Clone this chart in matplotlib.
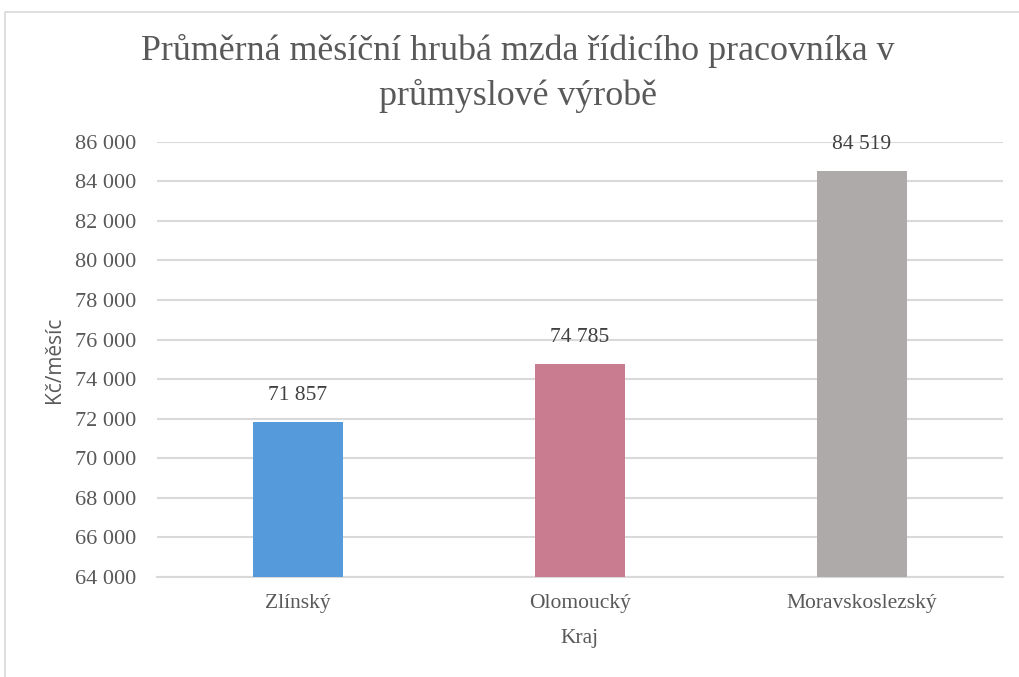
import matplotlib.pyplot as plt
from matplotlib.patches import Rectangle
from matplotlib.ticker import FuncFormatter

kraje = ["Zlínský", "Olomoucký", "Moravskoslezský"]
mzdy = [71857, 74785, 84519]
barvy = ["#559BDC", "#C97C90", "#AEAAAA"]
y_ticks = list(range(64000, 86001, 2000))

text_col = "#595959"
grid_col = "#D9D9D9"
serif = ["Liberation Serif", "DejaVu Serif"]

fig = plt.figure(figsize=(10.19, 6.77), dpi=100)
ax = fig.add_axes([0.154, 0.1477, 0.83, 0.643])

# ramecek grafu
fig.patches.append(Rectangle((5 / 1019, -0.01), 1.1, 1 - 12 / 677 + 0.01,
                             transform=fig.transFigure, fill=False,
                             edgecolor=grid_col, linewidth=1.2))

x = range(len(kraje))
ax.bar(x, [m - 64000 for m in mzdy], bottom=64000, width=0.32, color=barvy, zorder=3)
for i, m in enumerate(mzdy):
    ax.text(i, m + 850, f"{m:,}".replace(",", " "), ha="center", va="bottom",
            fontsize=15.5, color="#404040", family=serif)

ax.set_xlim(-0.5, 2.5)
ax.set_ylim(64000, 86000)
ax.set_yticks(y_ticks)
ax.yaxis.set_major_formatter(FuncFormatter(lambda v, p: f"{int(v):,}".replace(",", " ")))
ax.set_xticks(list(x))
ax.set_xticklabels(kraje)
ax.grid(axis="y", color=grid_col, linewidth=1.5, zorder=0)
for s in ["top", "right", "left"]:
    ax.spines[s].set_visible(False)
ax.spines["bottom"].set_color(grid_col)
ax.spines["bottom"].set_linewidth(1.5)
ax.tick_params(axis="y", length=0, labelcolor=text_col, labelsize=16, pad=15)
ax.tick_params(axis="x", length=0, labelcolor=text_col, labelsize=15.5, pad=12)
for lbl in ax.get_xticklabels() + ax.get_yticklabels():
    lbl.set_family(serif)

ax.set_xlabel("Kraj", fontsize=15.5, color=text_col, family=serif, labelpad=12)
ax.set_ylabel("Kč/měsíc", fontsize=15, color=text_col, family=["Open Sans", "DejaVu Sans"], labelpad=7)

fig.text(0.508, 1 - 73 / 677, "Průměrná měsíční hrubá mzda řídicího pracovníka v\nprůmyslové výrobě",
         ha="center", va="center", fontsize=25.8, color=text_col, family=serif, linespacing=1.42)

fig.savefig("out.png", dpi=100)
